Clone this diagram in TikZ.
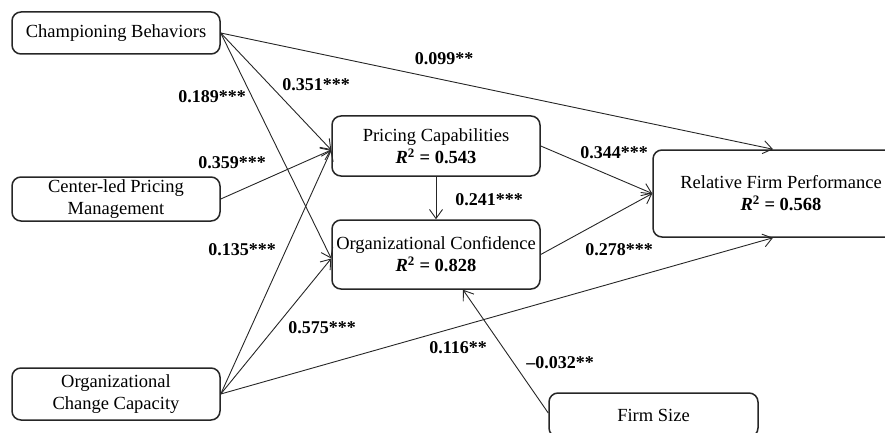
\documentclass[tikz,border=0pt]{standalone}
\usepackage{fontspec}
\setmainfont{Liberation Serif}
\usetikzlibrary{arrows.meta}

\begin{document}
\begin{tikzpicture}[
    x=1pt, y=-1pt,
    var/.style={
        rectangle,
        draw=black!85,
        line width=1.5pt,
        rounded corners=9pt,
        align=center,
        inner sep=0pt,
        font=\fontsize{18.5}{22}\selectfont
    },
    link/.style={
        -{Straight Barb[length=9pt,width=13pt]},
        line width=0.9pt,
        draw=black!85
    },
    coef/.style={
        font=\fontsize{18}{21}\selectfont\bfseries,
        inner sep=1pt
    }
]

\useasboundingbox (0,0) rectangle (885,433);
\clip (0,0) rectangle (885,433);

% Variables de entrada
\node[var, minimum width=208pt, minimum height=42pt] (champ) at (116,33) {Championing Behaviors};
\node[var, minimum width=208pt, minimum height=44pt] (center) at (116,199) {Center-led Pricing\\Management};
\node[var, minimum width=208pt, minimum height=52pt] (change) at (116,394) {Organizational\\Change Capacity};

% Mediadores
\node[var, minimum width=208pt, minimum height=60pt] (pricing) at (436,146)
    {Pricing Capabilities\\\textbf{\textit{R}\textsuperscript{2} = 0.543}};
\node[var, minimum width=208pt, minimum height=69pt] (confid) at (436,254.5)
    {Organizational Confidence\\\textbf{\textit{R}\textsuperscript{2} = 0.828}};

% Resultado y control
\node[var, minimum width=256pt, minimum height=87pt] (perf) at (781,193.5)
    {Relative Firm Performance\\\textbf{\textit{R}\textsuperscript{2} = 0.568}};
\node[var, minimum width=209pt, minimum height=44pt] (size) at (653.5,415) {Firm Size};

% Flechas
\draw[link] (champ.east) -- ([xshift=-8pt]perf.north);
\draw[link] (champ.east) -- ([yshift=-4pt]pricing.west);
\draw[link] (champ.east) -- ([yshift=-4pt]confid.west);
\draw[link] (center.east) -- ([yshift=-4pt]pricing.west);
\draw[link] (change.east) -- ([yshift=-4pt]pricing.west);
\draw[link] (change.east) -- ([yshift=-4pt]confid.west);
\draw[link] (change.east) -- ([xshift=-8pt]perf.south);
\draw[link] (pricing.east) -- (perf.west);
\draw[link] (confid.east) -- (perf.west);
\draw[link] (pricing.south) -- (confid.north);
\draw[link] ([yshift=2pt]size.west) -- ([xshift=27pt]confid.south);

% Coeficientes
\node[coef] (c099) at (444,59) {0.099**};
\node[coef] (c351) at (316,85) {0.351***};
\node[coef] (c189) at (212,97) {0.189***};
\node[coef] (c359) at (232,163) {0.359***};
\node[coef] (c135) at (242,250) {0.135***};
\node[coef] (c575) at (322,328) {0.575***};
\node[coef] (c116) at (458,348) {0.116**};
\node[coef] (c032) at (560,363) {--0.032**};
\node[coef] (c344) at (614,153) {0.344***};
\node[coef] (c241) at (489,200) {0.241***};
\node[coef] (c278) at (619,250) {0.278***};

\end{tikzpicture}
\end{document}
